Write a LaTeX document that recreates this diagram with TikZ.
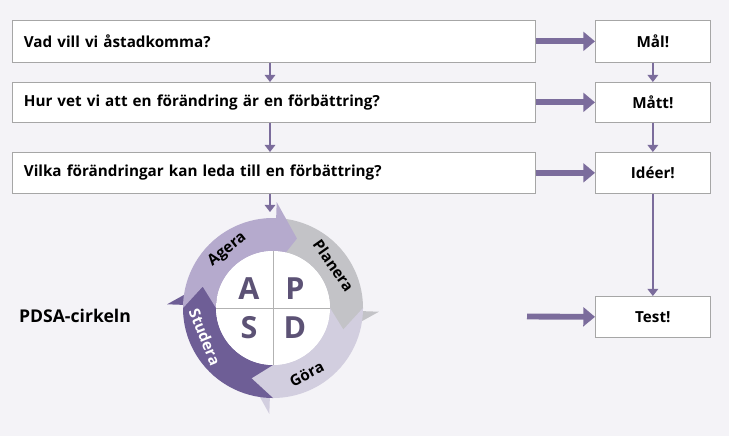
\documentclass[tikz,border=0pt]{standalone}
\usepackage{fontspec}
\setmainfont{Open Sans}
\usetikzlibrary{arrows.meta}
\definecolor{bgc}{HTML}{F4F3F7}
\definecolor{arrc}{HTML}{7B6C9C}
\definecolor{agc}{HTML}{B5AACD}
\definecolor{plc}{HTML}{C3C3C7}
\definecolor{goc}{HTML}{D2CEDF}
\definecolor{stc}{HTML}{6E5E96}
\definecolor{letc}{HTML}{5C5275}
\tikzset{
  qbox/.style={draw=gray!70, fill=white, line width=0.6pt, anchor=north west, inner xsep=6pt, font=\bfseries\fontsize{13}{15}\selectfont},
  abox/.style={draw=gray!70, fill=white, line width=0.6pt, anchor=north west, font=\bfseries\fontsize{13}{15}\selectfont},
  bigarr/.style={arrc, line width=5pt, -{Triangle[length=10pt,width=16pt]}},
  smallarr/.style={arrc, line width=1.2pt, -{Triangle[length=6pt,width=9pt]}},
  arclabel/.style={font=\bfseries\fontsize{13}{15}\selectfont},
  letter/.style={letc, font=\bfseries\fontsize{26}{28}\selectfont}
}
\newcommand{\cyclearc}[3]{% start angle, end angle, colour
  \fill[#3] (#1:90) arc[start angle=#1, end angle=#2, radius=90] -- (#2:106) -- (#2-17:73.5) -- (#2:41)
    -- (#2:57) arc[start angle=#2, end angle=#1, radius=57] -- (#1-17:73.5) -- cycle;}
\begin{document}
\begin{tikzpicture}[x=0.03cm,y=-0.03cm]
\fill[bgc] (0,0) rectangle (729,436);
\useasboundingbox (0,0) rectangle (729,436);
% question boxes
\node[qbox, minimum width=523*0.03cm, minimum height=42*0.03cm, text width=500*0.03cm] (q1) at (12,20) {Vad vill vi åstadkomma?};
\node[qbox, minimum width=523*0.03cm, minimum height=40*0.03cm, text width=500*0.03cm] (q2) at (12,82) {Hur vet vi att en förändring är en förbättring?};
\node[qbox, minimum width=523*0.03cm, minimum height=41*0.03cm, text width=500*0.03cm] (q3) at (12,152) {Vilka förändringar kan leda till en förbättring?};
% answer boxes
\node[abox, minimum width=115*0.03cm, minimum height=42*0.03cm] (a1) at (595,20) {Mål!};
\node[abox, minimum width=115*0.03cm, minimum height=40*0.03cm] (a2) at (595,82) {Mått!};
\node[abox, minimum width=115*0.03cm, minimum height=41*0.03cm] (a3) at (595,152) {Idéer!};
\node[abox, minimum width=115*0.03cm, minimum height=41*0.03cm] (a4) at (595,296) {Test!};
\node[font=\bfseries\fontsize{15}{17}\selectfont] (pdsa) at (75,316) {PDSA-cirkeln};
% arrows
\draw[bigarr] (q1.east) -- (a1.west);
\draw[bigarr] (q2.east) -- (a2.west);
\draw[bigarr] (q3.east) -- (a3.west);
\coordinate (tstart) at (527,316.5);
\draw[bigarr] (tstart) -- (a4.west);
\draw[smallarr] (q1.south -| 270,0) -- (q2.north -| 270,0);
\draw[smallarr] (q2.south -| 270,0) -- (q3.north -| 270,0);
\coordinate (cin) at (270,212);
\draw[smallarr] (q3.south -| 270,0) -- (cin);
\draw[smallarr] (a1) -- (a2);
\draw[smallarr] (a2) -- (a3);
\draw[smallarr] (a3) -- (a4);
% PDSA circle
\begin{scope}[shift={(273,308)}, y=0.03cm]
\cyclearc{90}{-2}{plc}
\cyclearc{0}{-92}{goc}
\cyclearc{-90}{-182}{stc}
\cyclearc{180}{88}{agc}
\fill[white] (0,0) circle[radius=57];
\draw[gray!60, line width=0.6pt] (0,57) -- (0,-57) (-57,0) -- (57,0);
\node[letter] (la) at (-24,19) {A};
\node[letter] (lp) at (22,19) {P};
\node[letter] (ls) at (-24,-20) {S};
\node[letter] (ld) at (22,-20) {D};
\node[arclabel, rotate=38] (ag) at (128:74) {Agera};
\node[arclabel, rotate=-55] (pl) at (35:74) {Planera};
\node[arclabel, rotate=27] (go) at (-63:74) {Göra};
\node[arclabel, white, rotate=-68] (st) at (203:74) {Studera};
\end{scope}
\end{tikzpicture}
\end{document}
